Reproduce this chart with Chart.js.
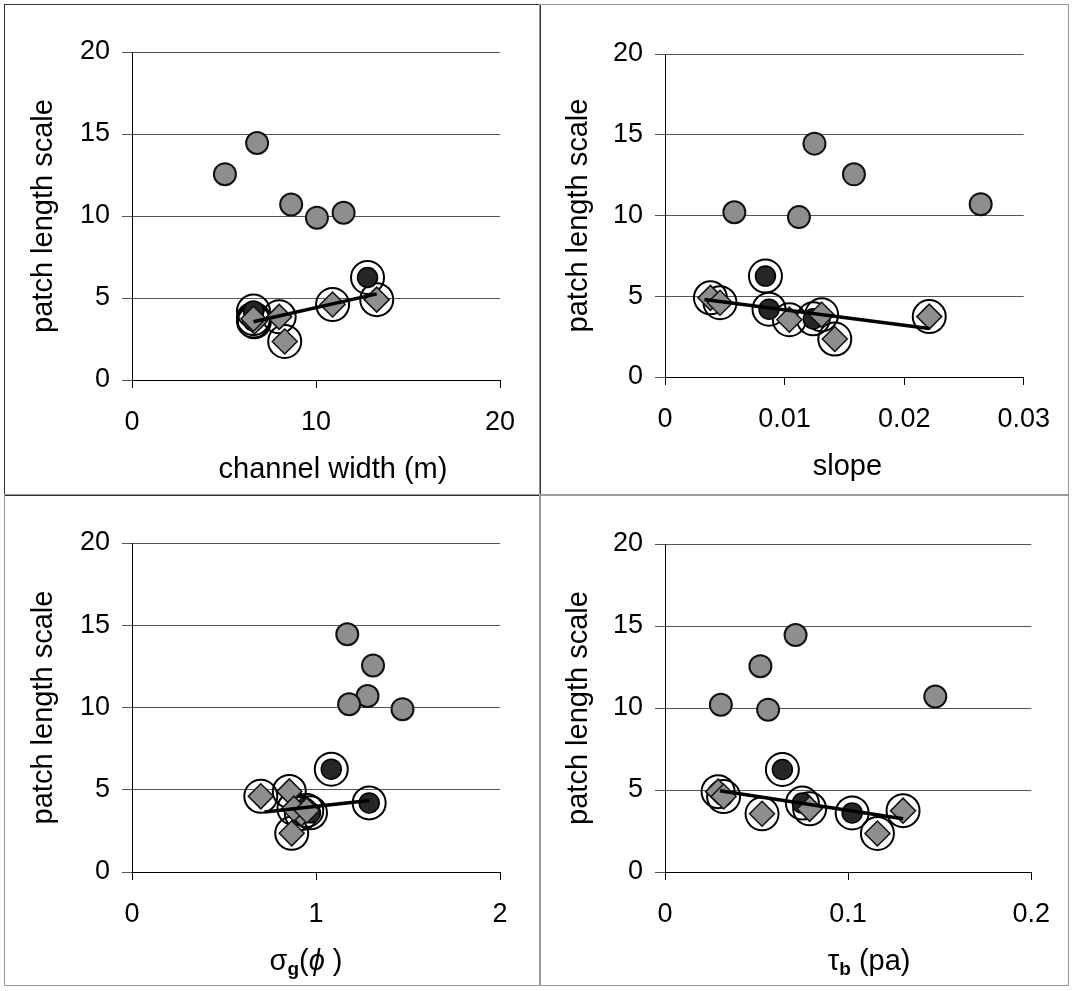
<!DOCTYPE html>
<html>
<head>
<meta charset="utf-8">
<script src="https://cdn.jsdelivr.net/npm/chart.js@4.4.0/dist/chart.umd.min.js"></script>
<style>
  body { margin: 0; background: #fff; }
  #wrap { position: relative; width: 1073px; height: 991px; }
  canvas { position: absolute; outline: 1px solid #999; }
  #c1 { left: 5px; top: 5px; outline-color: #333; }
  #c2 { left: 540px; top: 5px; }
  #c3 { left: 5px; top: 495px; }
  #c4 { left: 540px; top: 495px; }
</style>
</head>
<body>
<div id="wrap">
  <canvas id="c1" width="535" height="490"></canvas>
  <canvas id="c2" width="528" height="490"></canvas>
  <canvas id="c3" width="535" height="490"></canvas>
  <canvas id="c4" width="528" height="490"></canvas>
</div>
<script>
// patch length scale (shared by all four panels)
var lenGray = [14.45, 12.55, 10.7, 10.2, 9.9];
var lenDark = [6.25, 4.2, 3.6];
var lenDiamond = [4.9, 4.6, 3.55, 3.85, 2.35, 3.74];

// channel width (m)
var widthGray = [6.8, 5.05, 8.65, 11.5, 10.05];
var widthDark = [12.8, 6.6, 6.6];
var widthDiamond = [13.3, 10.9, 6.65, 8.0, 8.3, 6.6];
var widthTrendX = [6.6, 13.3];
var widthTrendY = [3.55, 5.25];

// slope
var slopeGray = [0.0125, 0.0158, 0.0264, 0.0058, 0.0112];
var slopeDark = [0.0084, 0.0087, 0.0124];
var slopeDiamond = [0.0038, 0.0046, 0.0104, 0.0131, 0.0142, 0.0221];
var slopeTrendX = [0.0033, 0.0221];
var slopeTrendY = [4.8, 3.0];

// sigma_g(phi)
var sigmaGray = [1.17, 1.31, 1.28, 1.18, 1.47];
var sigmaDark = [1.083, 1.289, 0.97];
var sigmaDiamond = [0.855, 0.70, 0.92, 0.88, 0.868, 0.95];
var sigmaTrendX = [0.72, 1.29];
var sigmaTrendY = [3.65, 4.35];

// tau_b (pa)
var tauGray = [0.0713, 0.0521, 0.1476, 0.0305, 0.0563];
var tauDark = [0.0641, 0.075, 0.1022];
var tauDiamond = [0.029, 0.032, 0.053, 0.079, 0.116, 0.130];
var tauTrendX = [0.030, 0.130];
var tauTrendY = [4.95, 3.25];

var yTicks = [0, 5, 10, 15, 20];
var yLabel = 'patch length scale';
var widthTitle = [{t: 'channel width (m)'}];
var slopeTitle = [{t: 'slope'}];
var sigmaTitle = [{t: 'σ'}, {t: 'g', sub: true}, {t: '('}, {t: 'ϕ', it: true}, {t: ' )'}];
var tauTitle = [{t: 'τ'}, {t: 'b', sub: true}, {t: ' (pa)'}];

var FONT = "'Liberation Sans', Arial, sans-serif";

function pts(xs, ys) {
  return xs.map(function(x, i) { return {x: x, y: ys[i]}; });
}

// x axis titles drawn by hand so the subscripts work
var xTitlePlugin = {
  id: 'xTitle',
  afterDraw: function(chart, args, opts) {
    var ctx = chart.ctx, area = chart.chartArea;
    var fonts = opts.parts.map(function(p) {
      if (p.sub) return 'bold 19px ' + FONT;
      if (p.it) return 'italic 29px ' + FONT;
      return '29px ' + FONT;
    });
    var total = 0, widths = [];
    ctx.save();
    opts.parts.forEach(function(p, i) {
      ctx.font = fonts[i];
      widths.push(ctx.measureText(p.t).width);
      total += widths[i];
    });
    var x = (area.left + area.right) / 2 + opts.dx - total / 2;
    var y = area.bottom + opts.dy;
    ctx.fillStyle = '#000';
    ctx.textBaseline = 'middle';
    ctx.textAlign = 'left';
    opts.parts.forEach(function(p, i) {
      ctx.font = fonts[i];
      ctx.fillText(p.t, x, p.sub ? y + 8 : y);
      x += widths[i];
    });
    ctx.restore();
  }
};

function fmt(v) { return String(+v.toFixed(3)); }

function panel(id, p) {
  var rings = pts(p.darkX, lenDark).concat(pts(p.diamondX, lenDiamond));
  return new Chart(document.getElementById(id), {
    type: 'scatter',
    plugins: [xTitlePlugin],
    data: {
      datasets: [
        {type: 'line', data: pts(p.trendX, p.trendY), borderColor: '#000', borderWidth: 3.5,
         pointRadius: 0, fill: false, order: 0},
        {data: pts(p.grayX, lenGray), pointRadius: 11, pointBackgroundColor: '#8e8e8e',
         pointBorderColor: '#111', pointBorderWidth: 2, order: 1},
        {data: pts(p.diamondX, lenDiamond), pointStyle: 'rectRot', pointRadius: 12.5,
         pointBackgroundColor: '#8e8e8e', pointBorderColor: '#111', pointBorderWidth: 1.5, order: 2},
        {data: pts(p.darkX, lenDark), pointRadius: 10, pointBackgroundColor: '#262626',
         pointBorderColor: '#000', pointBorderWidth: 1.5, order: 3},
        {data: rings, pointRadius: 16.5, pointBackgroundColor: 'rgba(0,0,0,0)',
         pointBorderColor: '#000', pointBorderWidth: 2, order: 4}
      ]
    },
    options: {
      responsive: false,
      animation: false,
      devicePixelRatio: 1,
      events: [],
      layout: {padding: {top: p.padTop, right: p.padRight, left: 0, bottom: 0}},
      plugins: {
        legend: {display: false},
        tooltip: {enabled: false},
        xTitle: {parts: p.title, dx: p.titleDx, dy: 90}
      },
      scales: {
        x: {
          type: 'linear', min: 0, max: p.xMax,
          ticks: {stepSize: p.xStep, color: '#000', font: {family: FONT, size: 27},
                  padding: 18, maxRotation: 0, autoSkip: false, callback: fmt},
          grid: {drawOnChartArea: false, drawTicks: true, tickLength: 8, color: '#000'},
          border: {color: '#000', width: 1},
          afterFit: function(s) { s.height = p.xH; }
        },
        y: {
          min: 0, max: 20,
          afterBuildTicks: function(s) { s.ticks = yTicks.map(function(v) { return {value: v}; }); },
          ticks: {color: '#000', font: {family: FONT, size: 27}, padding: 12},
          grid: {color: '#555', tickLength: 10},
          border: {color: '#000', width: 1},
          title: {display: true, text: yLabel, color: '#000', font: {family: FONT, size: 29},
                  padding: {top: 22, bottom: 0}},
          afterFit: function(s) { s.width = p.yW; }
        }
      }
    }
  });
}

panel('c1', {grayX: widthGray, darkX: widthDark, diamondX: widthDiamond,
  trendX: widthTrendX, trendY: widthTrendY, xMax: 20, xStep: 10, title: widthTitle, titleDx: 17,
  yW: 127, xH: 115, padTop: 47, padRight: 40});
panel('c2', {grayX: slopeGray, darkX: slopeDark, diamondX: slopeDiamond,
  trendX: slopeTrendX, trendY: slopeTrendY, xMax: 0.03, xStep: 0.01, title: slopeTitle, titleDx: 3,
  yW: 125, xH: 118, padTop: 49, padRight: 28});
panel('c3', {grayX: sigmaGray, darkX: sigmaDark, diamondX: sigmaDiamond,
  trendX: sigmaTrendX, trendY: sigmaTrendY, xMax: 2, xStep: 1, title: sigmaTitle, titleDx: -10,
  yW: 127, xH: 113, padTop: 48, padRight: 40});
panel('c4', {grayX: tauGray, darkX: tauDark, diamondX: tauDiamond,
  trendX: tauTrendX, trendY: tauTrendY, xMax: 0.2, xStep: 0.1, title: tauTitle, titleDx: 21,
  yW: 125, xH: 113, padTop: 49, padRight: 36});
</script>
</body>
</html>
